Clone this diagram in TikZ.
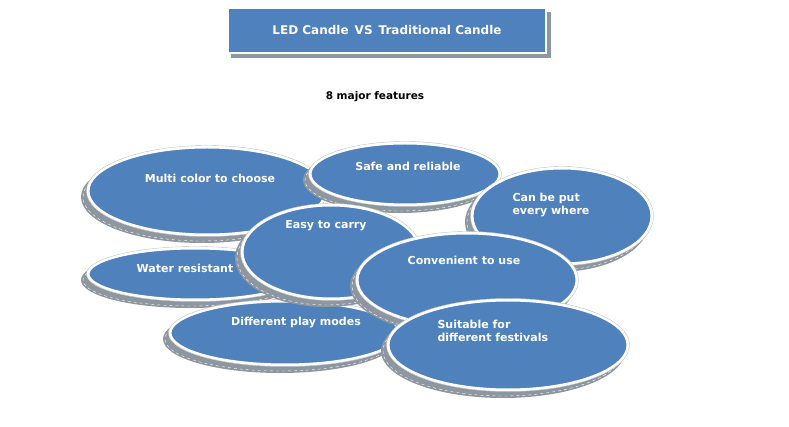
\documentclass[tikz,border=0pt]{standalone}
\usepackage{fontspec}
\setmainfont{DejaVu Sans}
\definecolor{blu}{HTML}{4F81BD}
\definecolor{shd}{HTML}{8E979F}
\begin{document}
\begin{tikzpicture}[x=1pt,y=-1pt,
  lab/.style={text=white,font=\bfseries\fontsize{11}{13}\selectfont,align=left},
  ovl/.pic={}]
\useasboundingbox (0,0) rectangle (789,427);
\newcommand\blob[5]{% cx cy rx ry name
  \fill[shd] (#1-5,#2+6) ellipse [x radius=#3+2,y radius=#4+2];
  \draw[white,dashed,thin] (#1-5,#2+6) ellipse [x radius=#3,y radius=#4];
  \filldraw[fill=blu,draw=white,line width=3] (#1,#2) ellipse [x radius=#3,y radius=#4];
  \draw[shd!60,thin] (#1,#2) ellipse [x radius=#3+1.5,y radius=#4+1.5];
  \coordinate (#5) at (#1,#2);}
% title
\fill[shd] (231,12) rectangle (551,58);
\filldraw[fill=blu,draw=white,line width=2.5] (228,8) rectangle (546,53);
\node[lab,font=\bfseries\fontsize{12}{14}\selectfont] (title) at (387,30) {LED Candle\enspace VS\enspace Traditional Candle};
\node[font=\bfseries\fontsize{10.5}{12}\selectfont] (sub) at (375,97) {8 major features};
\blob{207}{191}{119}{44}{e1}
\blob{405}{174}{95}{31}{e2}
\blob{562}{216}{90}{48}{e3}
\blob{195}{274}{107}{26}{e5}
\blob{285}{333}{115}{32}{e7}
\blob{331}{252}{89}{47}{e4}
\blob{467}{280}{110}{47}{e6}
\blob{508}{345}{120}{45}{e8}
\node[lab] (t1) at (210,178) {Multi color to choose};
\node[lab] (t2) at (408,166) {Safe and reliable};
\node[lab,anchor=west] (t3) at (509,205) {Can be put\\every where};
\node[lab] (t5) at (185,268) {Water resistant};
\node[lab] (t7) at (296,323) {Different play modes};
\node[lab] (t4) at (326,226) {Easy to carry};
\node[lab] (t6) at (464,260) {Convenient to use};
\node[lab,anchor=west] (t8) at (434,331) {Suitable for\\different festivals};
\end{tikzpicture}
\end{document}
